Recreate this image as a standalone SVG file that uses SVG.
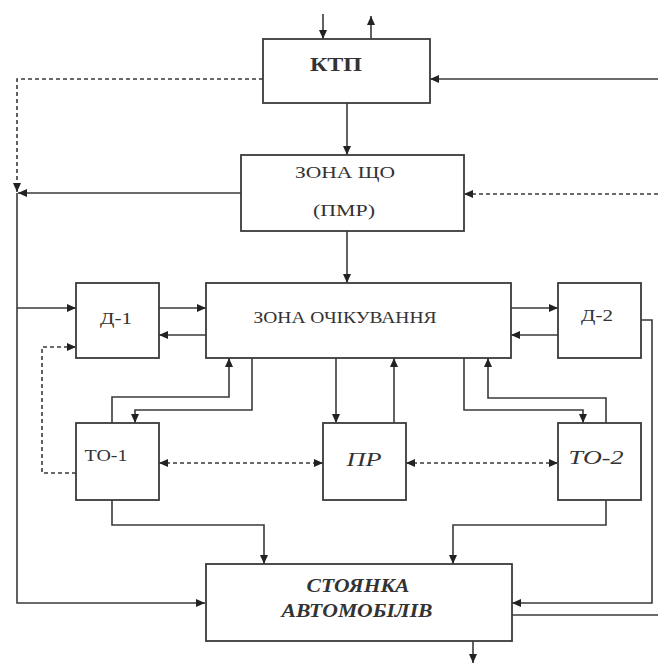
<svg xmlns="http://www.w3.org/2000/svg" width="658" height="665" viewBox="0 0 658 665">
<style>
.box{fill:#fff;stroke:#3a3a3a;stroke-width:1.8}
.ln{fill:none;stroke:#3a3a3a;stroke-width:1.6}
.ds{fill:none;stroke:#3a3a3a;stroke-width:1.6;stroke-dasharray:4,3}
.t{font-family:"Liberation Serif","Times New Roman",serif;fill:#333;text-anchor:middle;dominant-baseline:central}
.b{font-weight:bold}
.i{font-style:italic}
</style>
<defs>
<marker id="ah" markerUnits="userSpaceOnUse" markerWidth="10" markerHeight="9" refX="9" refY="4" orient="auto">
<path d="M0,0 L9,4 L0,8 z" fill="#222" stroke="none"/>
</marker>
<marker id="as" markerUnits="userSpaceOnUse" markerWidth="10" markerHeight="9" refX="0" refY="4" orient="auto">
<path d="M9,0 L0,4 L9,8 z" fill="#222" stroke="none"/>
</marker>
</defs>
<rect width="658" height="665" fill="#fff"/>
<g id="connectors">
<path class="ln" d="M323,14 L323,39" marker-end="url(#ah)"/>
<path class="ln" d="M371,39 L371,16" marker-end="url(#ah)"/>
<path class="ln" d="M658,79 L430,79" marker-end="url(#ah)"/>
<path class="ds" d="M263,79 L17,79 L17,192" marker-end="url(#ah)"/>
<path class="ln" d="M347,103 L347,155" marker-end="url(#ah)"/>
<path class="ds" d="M658,194 L464,194" marker-end="url(#ah)"/>
<path class="ln" d="M241,193 L18,193" marker-end="url(#ah)"/>
<path class="ln" d="M17,193 L17,603 L205,603" marker-end="url(#ah)"/>
<path class="ln" d="M17,308 L76,308" marker-end="url(#ah)"/>
<path class="ln" d="M347,231 L347,283" marker-end="url(#ah)"/>
<path class="ln" d="M159,308 L206,308" marker-end="url(#ah)"/>
<path class="ln" d="M206,335 L159,335" marker-end="url(#ah)"/>
<path class="ds" d="M76,473 L42,473 L42,347 L76,347" marker-end="url(#ah)"/>
<path class="ln" d="M112,423 L112,397 L229,397 L229,358" marker-end="url(#ah)"/>
<path class="ln" d="M252,358 L252,410 L135,410 L135,423" marker-end="url(#ah)"/>
<path class="ln" d="M336,358 L336,423" marker-end="url(#ah)"/>
<path class="ln" d="M394,423 L394,358" marker-end="url(#ah)"/>
<path class="ln" d="M464,358 L464,410 L583,410 L583,423" marker-end="url(#ah)"/>
<path class="ln" d="M606,423 L606,398 L488,398 L488,358" marker-end="url(#ah)"/>
<path class="ln" d="M511,308 L558,308" marker-end="url(#ah)"/>
<path class="ln" d="M558,335 L511,335" marker-end="url(#ah)"/>
<path class="ln" d="M641,320 L652,320 L652,603 L512,603" marker-end="url(#ah)"/>
<path class="ln" d="M512,615 L658,615"/>
<path class="ds" d="M159,463 L323,463" marker-start="url(#as)" marker-end="url(#ah)"/>
<path class="ds" d="M406,463 L558,463" marker-start="url(#as)" marker-end="url(#ah)"/>
<path class="ln" d="M112,500 L112,525 L264,525 L264,564" marker-end="url(#ah)"/>
<path class="ln" d="M606,500 L606,525 L453,525 L453,564" marker-end="url(#ah)"/>
<path class="ln" d="M473,595 L473,663" marker-end="url(#ah)"/>
</g>
<g id="ktp">
<rect class="box" x="263" y="39" width="167" height="64"/>
<text class="t b" x="336" y="64" font-size="19" textLength="52" lengthAdjust="spacingAndGlyphs">КТП</text>
</g>
<g id="zona-shcho">
<rect class="box" x="241" y="155" width="223" height="76"/>
<text class="t" x="345" y="172" font-size="17" textLength="100" lengthAdjust="spacingAndGlyphs">ЗОНА ЩО</text>
<text class="t" x="344" y="210" font-size="17" textLength="62" lengthAdjust="spacingAndGlyphs">(ПМР)</text>
</g>
<g id="zona-ochikuvannya">
<rect class="box" x="206" y="283" width="305" height="75"/>
<text class="t" x="345" y="317" font-size="16" textLength="183" lengthAdjust="spacingAndGlyphs">ЗОНА ОЧІКУВАННЯ</text>
</g>
<g id="d1">
<rect class="box" x="76" y="283" width="83" height="75"/>
<text class="t" x="116" y="318" font-size="17" textLength="32" lengthAdjust="spacingAndGlyphs">Д-1</text>
</g>
<g id="d2">
<rect class="box" x="558" y="283" width="83" height="75"/>
<text class="t" x="597" y="315" font-size="17" textLength="32" lengthAdjust="spacingAndGlyphs">Д-2</text>
</g>
<g id="to1">
<rect class="box" x="76" y="423" width="83" height="77"/>
<text class="t" x="106" y="455" font-size="17" textLength="43" lengthAdjust="spacingAndGlyphs">ТО-1</text>
</g>
<g id="pr">
<rect class="box" x="323" y="423" width="83" height="77"/>
<text class="t i" x="364" y="459" font-size="19" textLength="35" lengthAdjust="spacingAndGlyphs">ПР</text>
</g>
<g id="to2">
<rect class="box" x="558" y="423" width="83" height="77"/>
<text class="t i" x="596" y="458" font-size="18" textLength="55" lengthAdjust="spacingAndGlyphs">ТО-2</text>
</g>
<g id="stoyanka">
<rect class="box" x="206" y="564" width="306" height="77"/>
<text class="t b i" x="358" y="585" font-size="19" textLength="103" lengthAdjust="spacingAndGlyphs">СТОЯНКА</text>
<text class="t b i" x="357" y="610" font-size="19" textLength="151" lengthAdjust="spacingAndGlyphs">АВТОМОБІЛІВ</text>
</g>
</svg>
